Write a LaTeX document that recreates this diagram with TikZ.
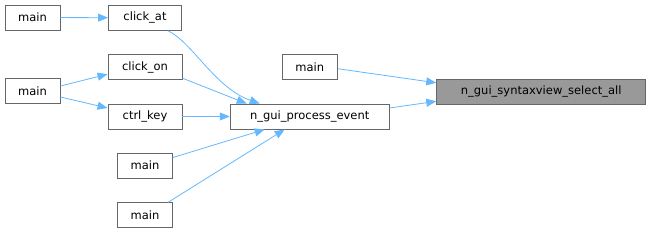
\documentclass[tikz,border=0pt]{standalone}
\usepackage{fontspec}
\setmainfont{DejaVu Sans}
\usepackage{tikz}
\usetikzlibrary{arrows.meta,positioning,calc}
\definecolor{edgeBlue}{RGB}{99,184,255}
\definecolor{boxBorder}{RGB}{102,102,102}
\definecolor{rootFill}{RGB}{153,153,153}
\tikzset{
  fnbox/.style={
    rectangle, draw=boxBorder, line width=0.9pt, fill=white,
    minimum height=25pt, inner sep=0pt, font=\fontsize{11.5}{13}\selectfont
  },
  rootbox/.style={fnbox, fill=rootFill},
  callArrow/.style={-{Triangle[length=10pt,width=8pt]}, line width=0.8pt, color=edgeBlue}
}

\begin{document}
\begin{tikzpicture}[x=1pt, y=-1pt]
        \useasboundingbox (0,0) rectangle (651,233);
        % callers of the callers
        \node[fnbox, minimum width=55pt] (mainA) at (32.5,17.5) {main};
        \node[fnbox, minimum width=55pt] (mainB) at (32.5,91) {main};
        % direct callers of n_gui_process_event
        \node[fnbox, minimum width=73pt] (clickat) at (145,17.8) {click\_at};
        \node[fnbox, minimum width=74pt] (clickon) at (145,67.2) {click\_on};
        \node[fnbox, minimum width=74pt] (ctrlkey) at (145,116.5) {ctrl\_key};
        \node[fnbox, minimum width=55pt] (mainC) at (145,165.5) {main};
        \node[fnbox, minimum width=55pt] (mainD) at (145,215.3) {main};
        % middle column
        \node[fnbox, minimum width=159pt] (procev) at (309.7,116.5) {n\_gui\_process\_event};
        \node[fnbox, minimum width=55pt] (mainE) at (309.8,67.2) {main};
        % the function itself
        \node[rootbox, minimum width=209pt] (selall) at (541.2,91.8) {n\_gui\_syntaxview\_select\_all};

        \draw[callArrow] (mainA) -- (clickat);
        \draw[callArrow] ([yshift=5pt]mainB.east) -- ([yshift=-7pt]clickon.west);
        \draw[callArrow] ([yshift=-6pt]mainB.east) -- ([yshift=8.5pt]ctrlkey.west);
        \draw[callArrow] ([xshift=23pt]clickat.south) .. controls (192,42) and (215,88)
          .. ([xshift=-50pt]procev.north);
        \draw[callArrow] ([yshift=-11pt]clickon.east) -- ([xshift=-63pt]procev.north);
        \draw[callArrow] (ctrlkey) -- (procev);
        \draw[callArrow] ([yshift=8pt]mainC.east) -- ([xshift=-45pt]procev.south);
        \draw[callArrow] ([xshift=23pt]mainD.north) -- ([xshift=-25pt]procev.south);
        \draw[callArrow] ([yshift=-1.5pt]mainE.east) -- ([yshift=9pt]selall.west);
        \draw[callArrow] ([yshift=8.5pt]procev.east) -- ([yshift=-9.5pt]selall.west);
      \end{tikzpicture}
\end{document}
